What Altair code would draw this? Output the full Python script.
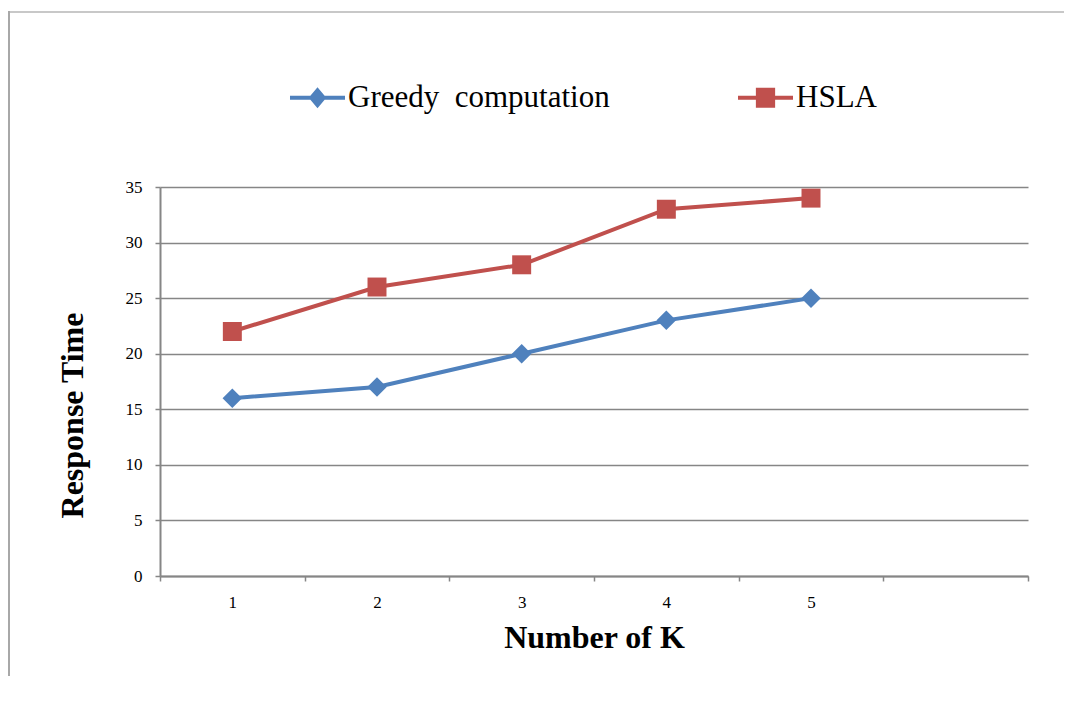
import altair as alt
import pandas as pd

# ---- data ----
k_values = [1, 2, 3, 4, 5]
greedy_times = [16, 17, 20, 23, 25]
hsla_times = [22, 26, 28, 33, 34]
series_names = ["Greedy\u00a0 computation", "HSLA"]
series_colors = ["#4F81BD", "#C0504D"]
y_ticks = [0, 5, 10, 15, 20, 25, 30, 35]
x_label_values = [1, 2, 3, 4, 5]
x_boundary_ticks = [0.5, 1.5, 2.5, 3.5, 4.5, 5.5, 6.5]

df = pd.DataFrame({
    "K": k_values * 2,
    "time": greedy_times + hsla_times,
    "series": [series_names[0]] * len(k_values) + [series_names[1]] * len(k_values),
})

FONT = "Liberation Serif"
GRAY = "#868686"

# legend symbols: line with a marker through it (unit space [-1, 1])
greedy_symbol = "M-1,-0.07H1V0.07H-1Z M0,-0.38L0.32,0L0,0.38L-0.32,0Z"
hsla_symbol = "M-1,-0.07H1V0.07H-1Z M-0.35,-0.36H0.35V0.36H-0.35Z"

color_scale = alt.Scale(domain=series_names, range=series_colors)
shape_scale = alt.Scale(domain=series_names, range=[greedy_symbol, hsla_symbol])

x_vals = sorted(set(x_label_values + x_boundary_ticks))
x_enc = alt.X(
    "K:Q",
    scale=alt.Scale(domain=[0.5, 6.5], nice=False, zero=False),
    axis=alt.Axis(
        title="Number of K",
        values=x_vals,
        labelExpr="(datum.value % 1 == 0 && datum.value <= 5) ? datum.value : ''",
        grid=False,
        domainColor=GRAY,
        domainWidth=2,
        tickColor=GRAY,
        tickWidth=1.5,
        tickSize=5,
        tickOpacity={"condition": {"test": "datum.value % 1 != 0", "value": 1}, "value": 0},
        labelFont=FONT,
        labelFontSize=17,
        labelColor="#000000",
        labelPadding=13,
        titleFont=FONT,
        titleFontSize=32,
        titleFontWeight="bold",
        titleColor="#000000",
        titlePadding=12,
    ),
)
y_enc = alt.Y(
    "time:Q",
    scale=alt.Scale(domain=[0, 35], nice=False),
    axis=alt.Axis(
        title="Response Time",
        values=y_ticks,
        grid=True,
        gridColor=GRAY,
        gridWidth=1.5,
        domainColor=GRAY,
        domainWidth=2,
        tickColor=GRAY,
        tickWidth=1.5,
        tickSize=5,
        labelFont=FONT,
        labelFontSize=17,
        labelColor="#000000",
        labelPadding=13,
        titleFont=FONT,
        titleFontSize=32,
        titleFontWeight="bold",
        titleColor="#000000",
        titlePadding=36,
        titleY=228,
    ),
)

base = alt.Chart(df)

lines = base.mark_line(strokeWidth=4).encode(
    x=x_enc, y=y_enc,
    color=alt.Color("series:N", scale=color_scale, legend=None),
)

greedy_pts = base.transform_filter(alt.datum.series == series_names[0]).mark_point(
    shape="diamond", filled=True, size=380, opacity=1
).encode(x="K:Q", y="time:Q", color=alt.Color("series:N", scale=color_scale, legend=None))

hsla_pts = base.transform_filter(alt.datum.series == series_names[1]).mark_point(
    shape="square", filled=True, size=360, opacity=1
).encode(x="K:Q", y="time:Q", color=alt.Color("series:N", scale=color_scale, legend=None))

legend = alt.Legend(
    title=None,
    orient="none",
    legendX=130,
    legendY=-117,
    direction="horizontal",
    columns=2,
    columnPadding=128,
    symbolSize=3025,
    symbolStrokeWidth=0,
    labelFont=FONT,
    labelFontSize=31,
    labelColor="#000000",
    labelOffset=3,
    labelLimit=0,
    padding=0,
)
legend_layer = base.transform_filter(alt.datum.K < 0).mark_point(filled=True, opacity=1).encode(
    x="K:Q", y="time:Q",
    color=alt.Color("series:N", scale=color_scale, legend=legend),
    shape=alt.Shape("series:N", scale=shape_scale, legend=legend),
)

frame_df = pd.DataFrame({"a": [0]})
frame_top = alt.Chart(frame_df).mark_rule(color="#C8C8C8", strokeWidth=2, clip=False).encode(
    x=alt.value(-152), x2=alt.value(920), y=alt.value(-175)
)
frame_left = alt.Chart(frame_df).mark_rule(color="#A8A8A8", strokeWidth=2, clip=False).encode(
    x=alt.value(-151), y=alt.value(-176), y2=alt.value(520)
)

chart = alt.layer(frame_top, frame_left, lines, greedy_pts, hsla_pts, legend_layer).resolve_legend(
    color="independent", shape="independent"
).properties(
    width=868,
    height=389,
    autosize=alt.AutoSizeParams(type="none"),
    padding={"left": 152, "top": 179, "right": 36, "bottom": 100},
    background="#FFFFFF",
).configure(font=FONT).configure_view(stroke=None).configure_legend(
    labelFont=FONT, labelFontSize=31, labelLimit=0, labelColor="#000000"
)

chart.save("out.html", embed_options={"renderer": "svg", "actions": False})
